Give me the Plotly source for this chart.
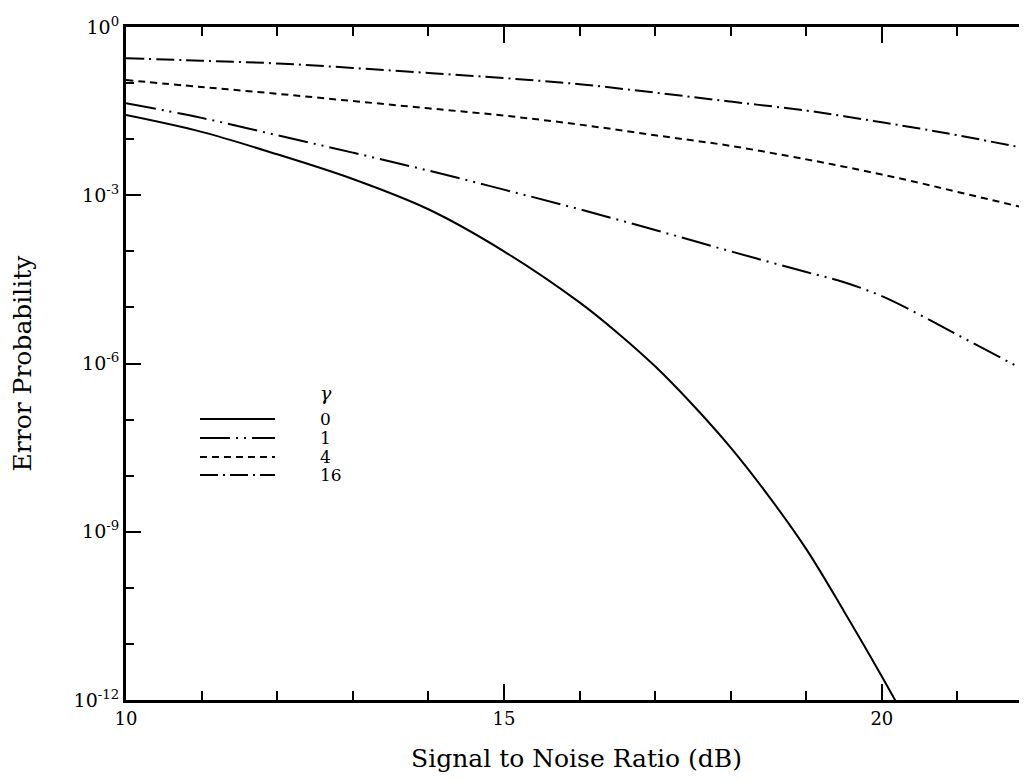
import plotly.graph_objects as go

# Signal to noise ratio (dB)
snr = [10, 11, 12, 13, 14, 15, 16, 17, 18, 19, 19.5, 20, 20.5, 21, 22]

# log10(error probability), one list per gamma
log_pe_g16 = [-0.558, -0.60, -0.65, -0.73, -0.82, -0.91, -1.02, -1.17, -1.33, -1.49, -1.59, -1.70, -1.81, -1.93, -2.19]
log_pe_g4 = [-0.945, -1.07, -1.19, -1.32, -1.45, -1.58, -1.74, -1.93, -2.12, -2.36, -2.49, -2.63, -2.78, -2.94, -3.26]
log_pe_g1 = [-1.36, -1.62, -1.93, -2.24, -2.56, -2.90, -3.25, -3.62, -4.00, -4.37, -4.55, -4.80, -5.13, -5.49, -6.20]

snr_g0 = [10, 11, 12, 13, 14, 15, 16, 16.5, 17, 17.5, 18, 18.5, 19, 19.5, 20, 20.5]
log_pe_g0 = [-1.57, -1.87, -2.27, -2.71, -3.25, -4.00, -4.91, -5.45, -6.05, -6.74, -7.50, -8.36, -9.31, -10.42, -11.58, -12.80]

gamma_labels = ["0", "1", "4", "16"]
y_major = [1, 1e-3, 1e-6, 1e-9, 1e-12]
y_major_text = ["10<sup>0</sup>", "10<sup>-3</sup>", "10<sup>-6</sup>", "10<sup>-9</sup>", "10<sup>-12</sup>"]
y_minor = [1e-1, 1e-2, 1e-4, 1e-5, 1e-7, 1e-8, 1e-10, 1e-11]
x_major = [10, 15, 20]
x_minor = [11, 12, 13, 14, 16, 17, 18, 19, 21]

dashes = {
    "0": "solid",
    "1": "30px,6px,2px,6px,2px,6px",
    "4": "7px,5px",
    "16": "18px,5px,2px,5px",
}

def to_p(vals):
    return [10 ** v for v in vals]

fig = go.Figure()
series = [
    ("0", snr_g0, log_pe_g0),
    ("1", snr, log_pe_g1),
    ("4", snr, log_pe_g4),
    ("16", snr, log_pe_g16),
]
for name, xs, ys in series:
    fig.add_trace(go.Scatter(
        x=xs, y=to_p(ys), mode="lines", name=name, showlegend=False,
        line=dict(color="black", width=2, dash=dashes[name], shape="spline", smoothing=1.0),
    ))

serif = "DejaVu Serif"

# page body adds an 8px offset, so the figure is 8px smaller than the window
OFF = 8
W, H = 1027 - OFF, 780 - OFF
ml, mr, mt = 126 - OFF, 0, 27 - OFF
ph = 700 - 27
mb = H - mt - ph
pw = W - ml - mr

def px_x(px):
    return (px - OFF - ml) / pw

def px_y(py):
    return 1 - (py - OFF - mt) / ph

leg_y = [419, 438, 457, 475]
for lab, yy in zip(gamma_labels, leg_y):
    fig.add_shape(type="line", xref="paper", yref="paper",
                  x0=px_x(200), x1=px_x(275), y0=px_y(yy), y1=px_y(yy),
                  line=dict(color="black", width=2, dash=dashes[lab]))
    fig.add_annotation(xref="paper", yref="paper", x=px_x(318), y=px_y(yy),
                       text=lab, showarrow=False, xanchor="left", yanchor="middle",
                       font=dict(family=serif, size=17, color="black"))
fig.add_annotation(xref="paper", yref="paper", x=px_x(318), y=px_y(393),
                   text="<i>γ</i>", showarrow=False, xanchor="left", yanchor="middle",
                   font=dict(family=serif, size=19, color="black"))

fig.update_layout(
    width=W, height=H,
    margin=dict(l=ml, r=mr, t=mt, b=mb),
    paper_bgcolor="white", plot_bgcolor="white",
    font=dict(family=serif, color="black"),
    xaxis=dict(
        range=[10, 21.92], showgrid=False, zeroline=False,
        showline=True, linewidth=3, linecolor="black", mirror="allticks",
        ticks="inside", ticklen=16, tickwidth=2, tickcolor="black",
        tickmode="array", tickvals=x_major, ticktext=[str(v) for v in x_major],
        tickfont=dict(family=serif, size=18),
        minor=dict(tickmode="array", tickvals=x_minor, ticks="inside", ticklen=9, tickwidth=2, tickcolor="black"),
        title=dict(text="Signal to Noise Ratio (dB)", font=dict(family=serif, size=25), standoff=22),
        automargin=False,
    ),
    yaxis=dict(
        type="log", range=[-12, 0], showgrid=False, zeroline=False,
        showline=True, linewidth=3, linecolor="black", mirror=False,
        ticks="inside", ticklen=15, tickwidth=2, tickcolor="black",
        tickmode="array", tickvals=y_major, ticktext=y_major_text,
        tickfont=dict(family=serif, size=19),
        minor=dict(tickmode="array", tickvals=y_minor, ticks="inside", ticklen=8, tickwidth=2, tickcolor="black"),
        title=dict(text="Error Probability", font=dict(family=serif, size=25), standoff=40),
        automargin=False,
    ),
)

fig.write_html("out.html")
